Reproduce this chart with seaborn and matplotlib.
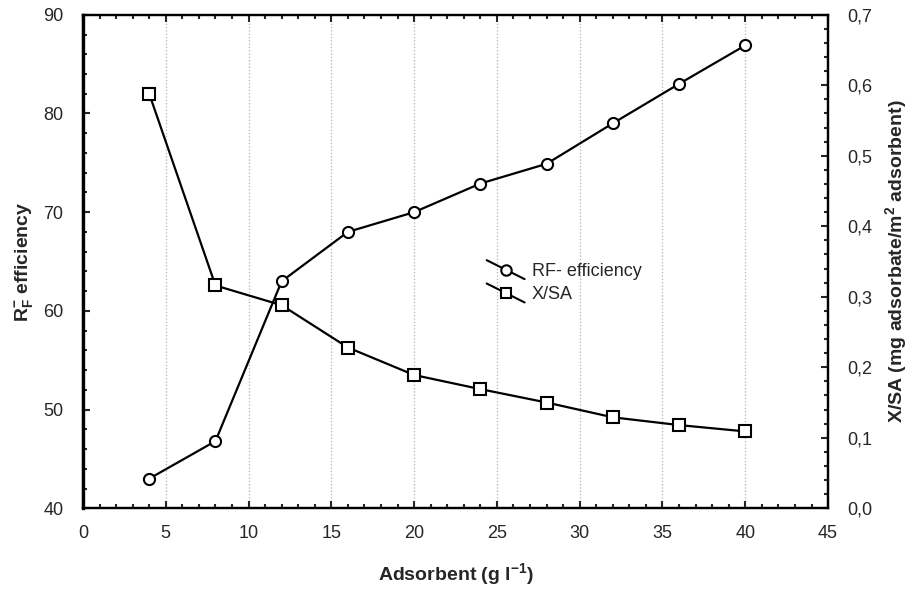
import numpy as np
import pandas as pd
import seaborn as sns
import matplotlib.pyplot as plt
from matplotlib.lines import Line2D
from matplotlib.legend_handler import HandlerLine2D
from matplotlib.ticker import MultipleLocator, FuncFormatter

# Data
adsorbent = [4, 8, 12, 16, 20, 24, 28, 32, 36, 40]
rf_efficiency = [43, 46.8, 63, 68, 70, 72.9, 74.9, 79, 83, 86.9]
x_sa = [0.588, 0.316, 0.288, 0.228, 0.189, 0.169, 0.150, 0.129, 0.118, 0.109]

df = pd.DataFrame({"Adsorbent": adsorbent, "RF": rf_efficiency, "XSA": x_sa})

sns.set_style("white")
plt.rcParams["font.family"] = ["Liberation Sans", "DejaVu Sans"]
plt.rcParams["mathtext.fontset"] = "custom"
plt.rcParams["mathtext.rm"] = "Liberation Sans"
plt.rcParams["mathtext.bf"] = "Liberation Sans:bold"


# Legend handle: slanted line with the marker in its middle
class DiagHandler(HandlerLine2D):
    def create_artists(self, legend, orig_handle, xdescent, ydescent,
                       width, height, fontsize, trans):
        x0, x1 = -xdescent, width - xdescent
        y0, y1 = height * 1.25 - ydescent, -height * 0.25 - ydescent
        line = Line2D([x0, x1], [y0, y1], color="black", lw=1.5)
        mk = Line2D([(x0 + x1) / 2], [(y0 + y1) / 2], linestyle="none",
                    marker=orig_handle.get_marker(), markersize=7.5,
                    markerfacecolor="white", markeredgecolor="black",
                    markeredgewidth=1.5)
        line.set_transform(trans)
        mk.set_transform(trans)
        return [line, mk]


fig, ax = plt.subplots(figsize=(9.16, 5.91), dpi=100)
fig.subplots_adjust(left=0.0906, right=0.904, top=0.975, bottom=0.14)
ax2 = ax.twinx()

sns.lineplot(data=df, x="Adsorbent", y="RF", ax=ax, color="black", lw=1.6,
             marker="o", markersize=8, markerfacecolor="white",
             markeredgecolor="black", markeredgewidth=1.5, zorder=3)
sns.lineplot(data=df, x="Adsorbent", y="XSA", ax=ax2, color="black", lw=1.6,
             marker="s", markersize=8, markerfacecolor="white",
             markeredgecolor="black", markeredgewidth=1.5, zorder=3)

ax.set_xlim(0, 45)
ax.set_ylim(40, 90)
ax2.set_ylim(0, 0.7)

ax.xaxis.set_major_locator(MultipleLocator(5))
ax.xaxis.set_minor_locator(MultipleLocator(1))
ax.yaxis.set_major_locator(MultipleLocator(10))
ax.yaxis.set_minor_locator(MultipleLocator(2))
ax2.yaxis.set_major_locator(MultipleLocator(0.1))
ax2.yaxis.set_minor_locator(MultipleLocator(0.02))
ax2.yaxis.set_major_formatter(FuncFormatter(lambda v, p: f"{v:.1f}".replace(".", ",")))

ax.xaxis.grid(True, which="major", linestyle=":", color="#b0b0b0", lw=0.9)
ax.set_axisbelow(True)

ax.tick_params(axis="x", which="both", direction="in", top=True, bottom=True,
               labelsize=13, pad=12)
ax.tick_params(axis="y", which="both", direction="in", left=True, labelsize=13, pad=14)
ax2.tick_params(axis="y", which="both", direction="in", right=True, labelsize=13, pad=14)
for a in (ax, ax2):
    a.tick_params(which="major", length=5, width=1.5)
    a.tick_params(which="minor", length=3, width=1.5)
    for s in a.spines.values():
        s.set_linewidth(1.6)
        s.set_color("black")
ax.spines["left"].set_linewidth(2.4)

ax.set_xlabel(r"Adsorbent (g l$^{\mathbf{-1}}$)", fontsize=14, fontweight="bold", labelpad=14)
ax.set_ylabel(r"$\mathbf{R_F^{-}}$ efficiency", fontsize=14, fontweight="bold", labelpad=6)
ax2.set_ylabel(r"X/SA (mg adsorbate/m$^{\mathbf{2}}$ adsorbent)", fontsize=14,
               fontweight="bold", labelpad=8)

handles = [Line2D([], [], marker="o", color="black"),
           Line2D([], [], marker="s", color="black")]
ax.legend(handles, ["RF- efficiency", "X/SA"], loc="upper left",
          bbox_to_anchor=(0.52, 0.53), frameon=False, fontsize=13,
          handlelength=2.1, handletextpad=0.4, labelspacing=0.35,
          handler_map={Line2D: DiagHandler()})

plt.savefig("out.png", dpi=100)
